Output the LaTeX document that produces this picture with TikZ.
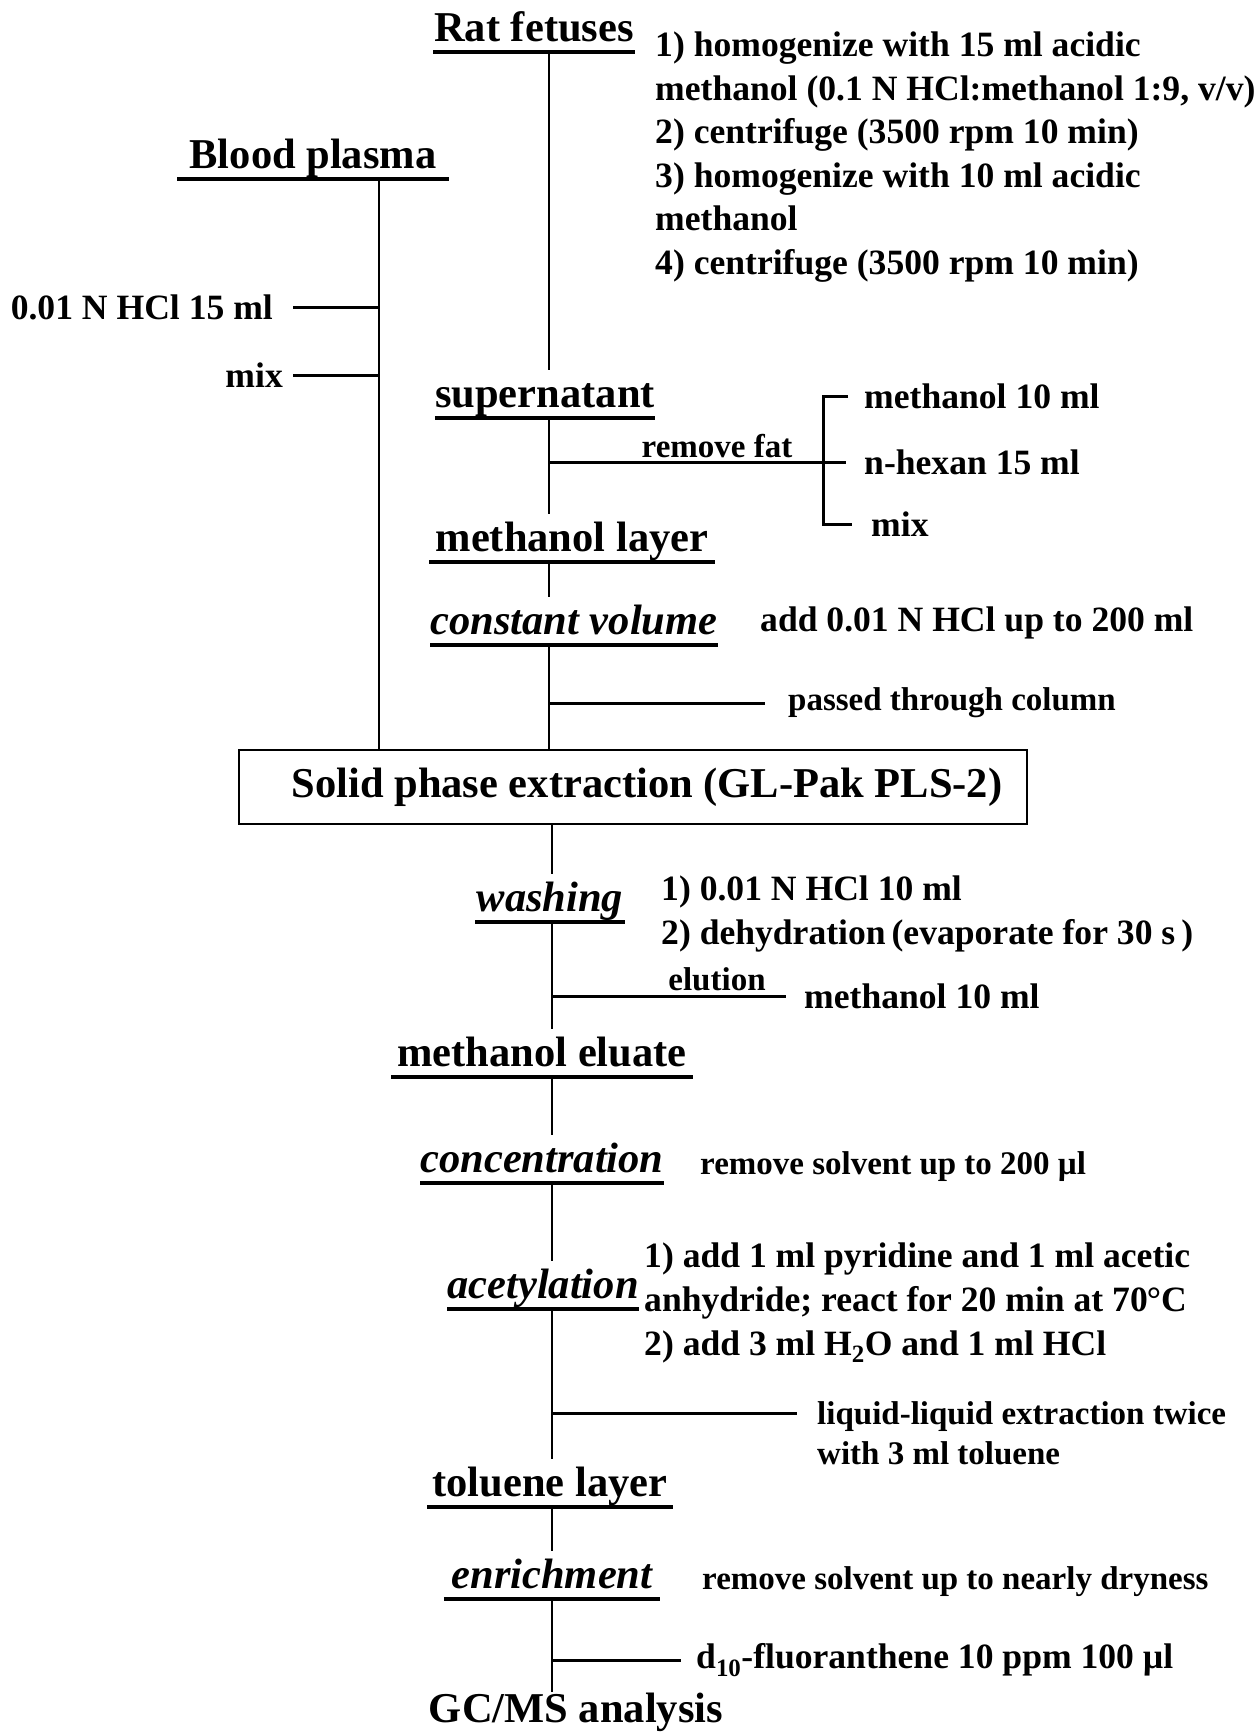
\documentclass[tikz,border=0pt]{standalone}
\usepackage{fontspec}
\setmainfont{Liberation Serif}
\newcommand{\hdfont}{\fontsize{42.5}{50}\selectfont\bfseries}
\newcommand{\mdfont}{\fontsize{35.6}{43.6}\selectfont\bfseries}
\newcommand{\smfont}{\fontsize{33}{40}\selectfont\bfseries}

\begin{document}
\begin{tikzpicture}[x=1pt,y=-1pt,
    uline/.style={line width=3.3pt},
    bline/.style={line width=3pt},
    vline/.style={line width=2pt, shorten >=9pt},
    head/.style={font=\hdfont, inner sep=0pt, text height=29pt, text depth=10pt, anchor=south,
        append after command={(\tikzlastnode.south west) edge[uline] (\tikzlastnode.south east)}},
    ihead/.style={head, font=\hdfont\itshape},
    note/.style={font=\mdfont, inner sep=0pt, anchor=west, align=left},
    snote/.style={note, font=\smfont}]
    \fill[white] (0,0) rectangle (1254,1733);
    \useasboundingbox (0,0) rectangle (1254,1733);

    \coordinate (sp) at (549,0);
    \coordinate (sq) at (552,0);
    \coordinate (bx) at (379,0);

    % headings
    \node[head, minimum width=201pt] (rf) at (534,52) {Rat fetuses};
    \node[head, minimum width=271pt] (bp) at (313,179) {Blood plasma};
    \node[head, minimum width=215pt] (sup) at (545,418) {supernatant};
    \node[head, minimum width=285pt] (ml) at (572,562) {methanol layer};
    \node[ihead, minimum width=286pt] (cv) at (574,645) {constant volume};
    \node[draw, line width=1.6pt, font=\hdfont, inner sep=0pt,
        minimum width=788pt, minimum height=74pt] (spe) at (633,787)
        {\hspace*{28pt}Solid phase extraction (GL-Pak PLS-2)};
    \node[ihead, minimum width=149pt] (wash) at (550,922) {washing};
    \node[head, minimum width=301pt] (me) at (542,1077) {methanol eluate};
    \node[ihead, minimum width=231pt] (conc) at (542,1183) {concentration};
    \node[ihead, minimum width=172pt] (acet) at (543,1309) {acetylation};
    \node[head, minimum width=245pt] (tol) at (550,1507) {toluene layer};
    \node[ihead, minimum width=216pt] (enr) at (552,1599) {enrichment};
    \node[font=\hdfont, inner sep=0pt, anchor=base] (gcms) at (576,1722) {GC/MS analysis};

    % main lines
    \draw[vline] (sp |- rf.south) -- (sp |- sup.north);
    \draw[vline] (sp |- sup.south) -- (sp |- ml.north);
    \draw[vline] (sp |- ml.south) -- (sp |- cv.north);
    \draw[vline, shorten >=0pt] (sp |- cv.south) -- (sp |- spe.north);
    \draw[vline, shorten >=0pt] (bx |- bp.south) -- (bx |- spe.north);
    \draw[vline] (sq |- spe.south) -- (sq |- wash.north);
    \draw[vline] (sq |- wash.south) -- (sq |- me.north);
    \draw[vline] (sq |- me.south) -- (sq |- conc.north);
    \draw[vline] (sq |- conc.south) -- (sq |- acet.north);
    \draw[vline] (sq |- acet.south) -- (sq |- tol.north);
    \draw[vline] (sq |- tol.south) -- (sq |- enr.north);
    \draw[vline, shorten >=0pt] (sq |- enr.south) -- (sq |- gcms.north);

    % blood plasma side
    \node[note, anchor=east] (hcl) at (273,307) {0.01 N HCl 15 ml};
    \node[note, anchor=east] (mixa) at (283,375) {mix};
    \draw[bline, shorten <=20pt] (hcl.east) -- (hcl.east -| bx);
    \draw[bline, shorten <=10pt] (mixa.east) -- (mixa.east -| bx);

    % rat fetuses side
    \node[note] (rfn) at (655,157) {1) homogenize with 15 ml acidic\\
        methanol (0.1 N HCl:methanol 1:9, v/v)\\
        2) centrifuge (3500 rpm 10 min)\\
        3) homogenize with 10 ml acidic\\
        methanol\\
        4) centrifuge (3500 rpm 10 min)};

    % remove fat
    \node[note] (mten) at (864,396) {methanol 10 ml};
    \node[note] (hex) at (864,462) {n-hexan 15 ml};
    \node[note] (mixb) at (871,524) {mix};
    \node[snote, anchor=center] (rmf) at (717,446) {remove fat};
    \coordinate (brk) at (823,0);
    \draw[bline, shorten <=16pt, shorten >=19pt] (mten.west) -| (brk |- hex.west) |- (mixb.west);
    \draw[bline, shorten >=18pt] (sp |- hex.west) -- (hex.west);

    \node[note] (addh) at (760,623) {add 0.01 N HCl up to 200 ml};
    \node[snote] (ptc) at (788,703) {passed through column};
    \draw[bline, shorten >=23pt] (sp |- ptc.west) -- (ptc.west);

    % after the column
    \node[note] (wn) at (661,914) {1) 0.01 N HCl 10 ml\\
        2) dehydration\,(evaporate for 30 s\,)};
    \node[note] (mel) at (804,996) {methanol 10 ml};
    \node[snote, anchor=center] (elu) at (717,979) {elution};
    \draw[bline, shorten >=18pt] (sq |- mel.west) -- (mel.west);
    \node[snote] (cn) at (700,1167) {remove solvent up to 200 µl};
    \node[note] (an) at (644,1303) {1) add 1 ml pyridine and 1 ml acetic\\
        anhydride; react for 20 min at 70\kern-1pt°C\\
        2) add 3 ml H\textsubscript{2}O and 1 ml HCl};
    \node[snote] (lle) at (817,1433) {liquid-liquid extraction twice\\
        with 3 ml toluene};
    \coordinate (llend) at (797,1413);
    \draw[bline] (sq |- llend) -- (llend);
    \node[snote] (en) at (702,1582) {remove solvent up to nearly dryness};
    \node[note] (d10) at (696,1660) {d\textsubscript{10}-fluoranthene 10 ppm 100 µl};
    \draw[bline, shorten >=15pt] (sq |- d10.west) -- (d10.west);
\end{tikzpicture}
\end{document}
